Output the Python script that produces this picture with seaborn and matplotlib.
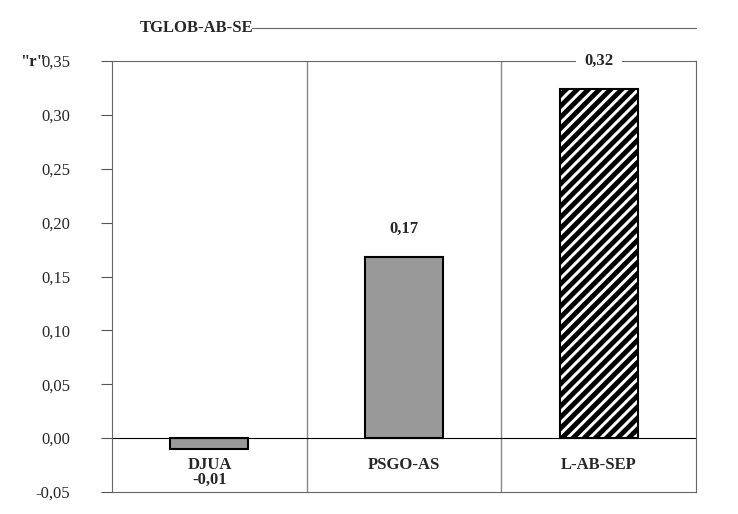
import matplotlib
matplotlib.use("Agg")
import matplotlib.pyplot as plt
import seaborn as sns
import pandas as pd
from matplotlib.ticker import FuncFormatter, MultipleLocator

categories = ["DJUA", "PSGO-AS", "L-AB-SEP"]
values = [-0.01, 0.168, 0.324]
labels = ["-0,01", "0,17", "0,32"]

sns.set_style("white")
plt.rcParams['font.family'] = ['Liberation Serif', 'DejaVu Serif']
plt.rcParams['hatch.linewidth'] = 3.5

fig = plt.figure(figsize=(7.38, 5.14), dpi=100)
ax = fig.add_axes([112/738, 1-492/514, (696-112)/738, (492-61)/514])
df = pd.DataFrame({"cat": categories, "val": values})
sns.barplot(data=df, x="cat", y="val", ax=ax, color="#999999", width=0.4,
            edgecolor="black", linewidth=1.5, saturation=1)
p = ax.patches[2]
p.set_facecolor("white"); p.set_hatch("///")
ax.set_ylim(-0.05, 0.35)
ax.set_xlim(-0.5, 2.5)
ax.yaxis.set_major_locator(MultipleLocator(0.05))
ax.yaxis.set_major_formatter(FuncFormatter(lambda v, _: f"{v:.2f}".replace(".", ",").replace("-0,00", "0,00")))
ax.tick_params(axis="y", labelsize=12, left=True, length=8, color="#555555", pad=22)
ax.set_xticks([]); ax.set_xlabel(""); ax.set_ylabel("")
for x in [0.5, 1.5]:
    ax.axvline(x, color="#888888", lw=1)
ax.axhline(0, color="black", lw=0.8)
for s in ax.spines.values():
    s.set_color("#666666"); s.set_linewidth(0.8)
for i, (c, v, l) in enumerate(zip(categories, values, labels)):
    ax.text(i, -0.025, c, ha="center", va="center", fontsize=12, fontweight="bold")
    if v < 0:
        ax.text(i, -0.039, l, ha="center", va="center", fontsize=12, fontweight="bold")
    else:
        ax.text(i, v + 0.026, l, ha="center", va="center", fontsize=12, fontweight="bold",
                bbox=dict(facecolor="white", edgecolor="none", pad=6))
fig.text(20/738, 1-62/514, '"r"', fontsize=12, fontweight="bold", ha="left", va="center")
fig.text(140/738, 1-28/514, "TGLOB-AB-SE", fontsize=12, fontweight="bold", ha="left", va="center")
fig.add_artist(plt.Line2D([252/738, 696/738], [1-28/514, 1-28/514], color="#666666", lw=0.8))
fig.savefig("out.png", dpi=100)
